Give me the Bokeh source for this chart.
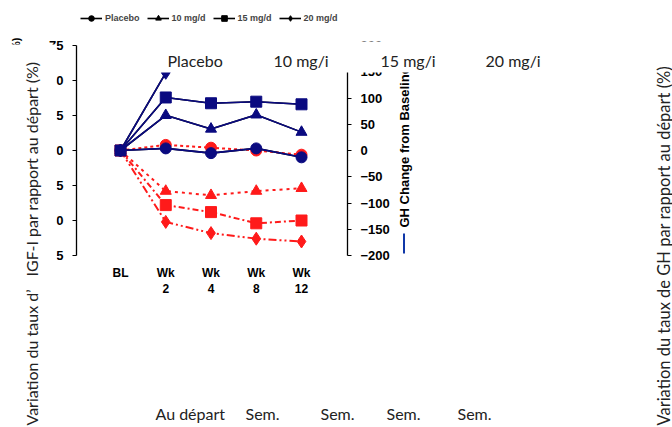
from math import pi
from bokeh.plotting import figure
from bokeh.models import (Range1d, LinearAxis, FixedTicker, Label, BoxAnnotation,
                          Legend, LegendItem)
from bokeh.embed import file_html
from bokeh.resources import INLINE

# ---------------- data ----------------
visits = ["BL", "Wk\n2", "Wk\n4", "Wk\n8", "Wk\n12"]
xpos = [0, 1, 2, 3, 4]

groups = ["Placebo", "10 mg/d", "15 mg/d", "20 mg/d"]
markers = ["circle", "triangle", "square", "diamond"]

# IGF-I change from baseline (%), left axis, red dotted
igf_placebo = [0, 4, 2, 0, -3]
igf_10 = [0, -29, -32, -29, -27]
igf_15 = [0, -39, -44, -52, -50]
igf_20 = [0, -51, -59, -63, -65]

# GH change from baseline (%), right axis, navy solid
gh_placebo = [0, 4, -5, 4, -13]
gh_10 = [0, 67, 41, 68, 35]
gh_15 = [0, 101, 90, 93, 88]
gh_20 = [0, 148, 175, 170, 180]

left_ticks = [-75, -50, -25, 0, 25, 50, 75]
right_ticks = [-200, -150, -100, -50, 0, 50, 100, 150, 200]

top_overlay = ["Placebo", "10 mg/i", "15 mg/i", "20 mg/i"]
bottom_overlay = ["Au départ", "Sem.", "Sem.", "Sem.", "Sem."]

# ---------------- geometry (pixels) ----------------
W, H = 672, 427
X0_PX, DX_PX = 120.0, 45.25          # BL position, px per visit
Y0_PX = 150.0                        # zero line
LEFT_PPU, RIGHT_PPU = 1.4, 0.525     # px per unit, left / right axes
LEFT_AXIS_PX, RIGHT_AXIS_PX = 76.0, 347.0

x_range = Range1d(-X0_PX / DX_PX, (W - X0_PX) / DX_PX)
y_range = Range1d(-(H - Y0_PX) / LEFT_PPU, Y0_PX / LEFT_PPU)
gh_range = Range1d(-(H - Y0_PX) / RIGHT_PPU, Y0_PX / RIGHT_PPU)

NAVY = "#0a0a80"
RED = "#ff1a1a"
BOLD_FONT = "Liberation Sans"
SOFT_FONT = "Lato"
SOFT_COLOR = "#222222"

p = figure(width=W, height=H, x_range=x_range, y_range=y_range,
           output_backend="svg", toolbar_location=None,
           x_axis_location=None, y_axis_location=None,
           min_border=0, min_border_left=0, min_border_right=0,
           min_border_top=0, min_border_bottom=0)
p.extra_y_ranges = {"gh": gh_range}
p.grid.visible = False
p.outline_line_color = None
p.background_fill_color = "white"
p.border_fill_color = "white"

def style_axis(ax, size="13px"):
    ax.minor_tick_line_color = None
    ax.major_label_text_font = BOLD_FONT
    ax.major_label_text_font_style = "bold"
    ax.major_label_text_font_size = size
    ax.major_label_text_color = "black"

# x axis
xa = LinearAxis(fixed_location=left_ticks[0], bounds=(xpos[0], xpos[-1]),
                ticker=FixedTicker(ticks=xpos))
xa.major_label_overrides = {x: v for x, v in zip(xpos, visits)}
xa.axis_line_color = None
xa.major_tick_line_color = None
xa.major_label_standoff = 4
style_axis(xa, "12px")
p.add_layout(xa, "below")

# left axis
ya = LinearAxis(fixed_location=(LEFT_AXIS_PX - X0_PX) / DX_PX,
                bounds=(left_ticks[0], left_ticks[-1]), ticker=FixedTicker(ticks=left_ticks))
ya.major_tick_in = 0
ya.major_tick_out = 4
ya.major_label_standoff = 9
ya.axis_line_width = 1.3
style_axis(ya)
p.add_layout(ya, "left")

# right axis
ra = LinearAxis(y_range_name="gh", fixed_location=(RIGHT_AXIS_PX - X0_PX) / DX_PX,
                bounds=(right_ticks[0], right_ticks[-1]), ticker=FixedTicker(ticks=right_ticks))
ra.major_tick_in = 0
ra.major_tick_out = 4
ra.major_label_standoff = 9
ra.axis_line_width = 1.3
style_axis(ra)
p.add_layout(ra, "right")

# IGF-I series (red dotted)
igf = [igf_placebo, igf_10, igf_15, igf_20]
dashes = ["3 3", "3 4", "6 3 2 3", "8 3 2 3 2 3"]
for vals, m, d in zip(igf, markers, dashes):
    p.line(xpos, vals, color=RED, line_width=2, line_dash=d)
    p.scatter(xpos, vals, marker=m, size=11 if m != "diamond" else 13,
              fill_color=RED, line_color=RED)

# GH series: black key renderers underneath (for the legend), navy on top
gh = [gh_placebo, gh_10, gh_15, gh_20]
items = []
for g, vals, m in zip(groups, gh, markers):
    lr = p.line(xpos, vals, color="black", line_width=1.6, y_range_name="gh")
    sr = p.scatter(xpos, vals, marker=m, size=7, fill_color="black",
                   line_color="black", y_range_name="gh")
    items.append(LegendItem(label=g, renderers=[lr, sr]))
for vals, m in zip(gh, markers):
    p.line(xpos, vals, color=NAVY, line_width=1.6, y_range_name="gh")
    p.scatter(xpos, vals, marker=m, size=11 if m != "diamond" else 13,
              fill_color=NAVY, line_color=NAVY, y_range_name="gh")

leg = Legend(items=items, orientation="horizontal", location=(78, H - 27),
             glyph_width=22, glyph_height=14, label_height=14, label_standoff=3,
             spacing=7, padding=2, margin=0, border_line_alpha=0,
             background_fill_alpha=0, label_text_font=BOLD_FONT,
             label_text_font_style="bold", label_text_font_size="9px")
p.add_layout(leg)

def lab(text, x, y, **kw):
    opts = dict(x=x, y=y, text=text, x_units="canvas", y_units="canvas",
                text_baseline="middle", text_align="left", text_color="black")
    opts.update(kw)
    p.add_layout(Label(**opts))

def box(l, r, t, b, color="white"):
    p.add_layout(BoxAnnotation(left=l, right=r, top=t, bottom=b,
                               left_units="canvas", right_units="canvas",
                               top_units="canvas", bottom_units="canvas",
                               fill_color=color, fill_alpha=1, line_alpha=0))

# original axis titles (partly covered later)
lab("GH Change from Baseline (%)", 404, 227, angle=pi / 2, text_font=BOLD_FONT,
    text_font_style="bold", text_font_size="13px")
box(402.5, 404.5, 233, 253, color="#1038a8")
lab("IGF-I Change from Baseline (%)", 15, 37, angle=pi / 2, text_align="right",
    text_font=BOLD_FONT, text_font_style="bold", text_font_size="11px")

# translated overlays with white backing
box(150, 560, 41, 72)
for t, x in zip(top_overlay, [167, 273, 380, 485]):
    lab(t, x, 60, text_font=SOFT_FONT, text_font_size="16px", text_color=SOFT_COLOR)
box(0, 56, 44, 427)
lab("Variation du taux d\u2019", 31, 425, angle=pi / 2, text_font=SOFT_FONT,
    text_font_size="16px", text_color=SOFT_COLOR)
lab("IGF-I par rapport au départ (%)", 31, 276, angle=pi / 2, text_font=SOFT_FONT,
    text_font_size="16px", text_color=SOFT_COLOR)
lab("Variation du taux de GH par rapport au départ (%)", 663, 425, angle=pi / 2,
    text_font=SOFT_FONT, text_font_size="16.5px", text_color=SOFT_COLOR)
for t, x in zip(bottom_overlay, [155, 245, 320, 386, 457]):
    lab(t, x, 413, text_font=SOFT_FONT, text_font_size="16px", text_color=SOFT_COLOR)

open("out.html", "w").write(file_html(p, INLINE))
